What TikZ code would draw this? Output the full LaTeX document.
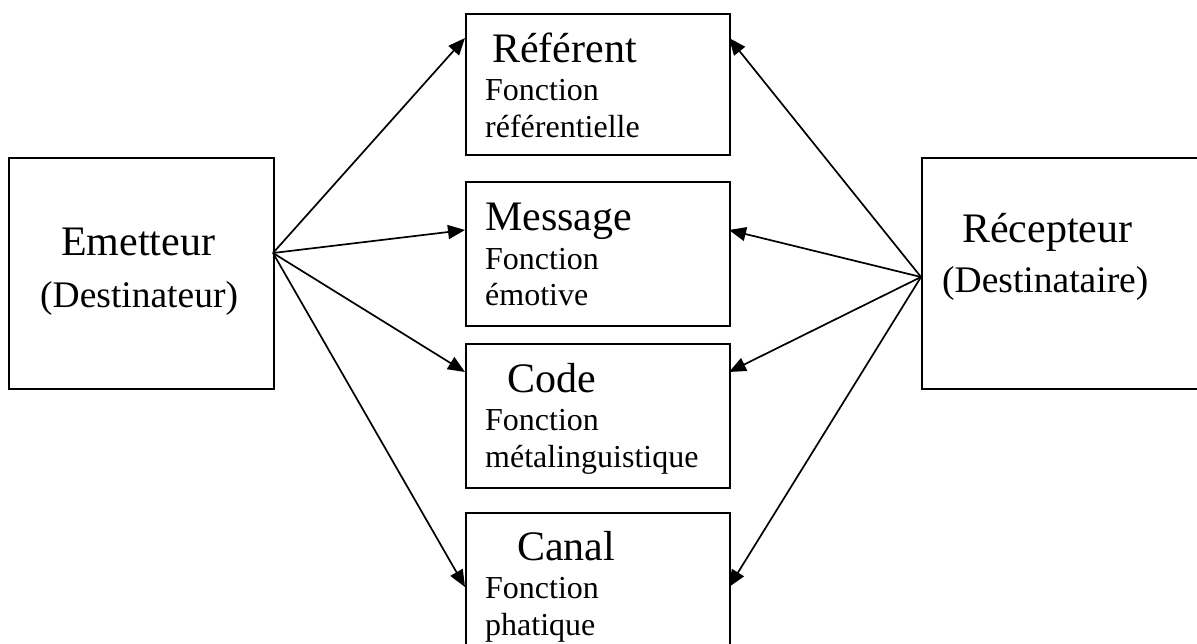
\documentclass[tikz,border=0pt]{standalone}
\usepackage{fontspec}
\setmainfont{Liberation Serif}
\usetikzlibrary{arrows.meta}
\begin{document}
\begin{tikzpicture}[x=1pt,y=-1pt,
  box/.style={draw,line width=1.9pt,inner sep=0pt,anchor=north west},
  big/.style={anchor=base west,inner sep=0pt,font=\fontsize{42}{42}\selectfont},
  mid/.style={anchor=base west,inner sep=0pt,font=\fontsize{37.5}{37.5}\selectfont},
  small/.style={anchor=base west,inner sep=0pt,font=\fontsize{32}{32}\selectfont},
  link/.style={line width=1.7pt,-{Triangle[length=17pt,width=14pt]}}]
\useasboundingbox (0,0) rectangle (1197,643);
% boxes
\node[box,minimum width=265pt,minimum height=231pt] (em) at (8,157) {};
\node[box,minimum width=300pt,minimum height=231pt] (rc) at (921,157) {};
\node[box,minimum width=264pt,minimum height=141pt] (ref) at (465,13) {};
\node[box,minimum width=264pt,minimum height=144pt] (msg) at (465,181) {};
\node[box,minimum width=264pt,minimum height=144pt] (cod) at (465,343) {};
\node[box,minimum width=264pt,minimum height=150pt] (can) at (465,512) {};
% texts
\node[big] (t1) at (61,255) {Emetteur};
\node[mid] (t2) at (40,307) {(Destinateur)};
\node[big] (t3) at (962,242) {Récepteur};
\node[mid] (t4) at (942,292) {(Destinataire)};
\node[big] (t5) at (492,62) {Référent};
\node[small] (t6) at (485,100) {Fonction};
\node[small] (t7) at (485,137) {référentielle};
\node[big] (t8) at (485,230) {Message};
\node[small] (t9) at (485,269) {Fonction};
\node[small] (t10) at (485,305) {émotive};
\node[big] (t11) at (507,392) {Code};
\node[small] (t12) at (485,430) {Fonction};
\node[small] (t13) at (485,467) {métalinguistique};
\node[big] (t14) at (517,560) {Canal};
\node[small] (t15) at (485,598) {Fonction};
\node[small] (t16) at (485,635) {phatique};
% connector points
\coordinate (eo) at (273,253);
\coordinate (ro) at (921,277);
\coordinate (refL) at (465,38);
\coordinate (refR) at (729,38);
\coordinate (msgL) at (465,230);
\coordinate (msgR) at (729,230);
\coordinate (codL) at (465,372);
\coordinate (codR) at (729,372);
\coordinate (canL) at (465,587);
\coordinate (canR) at (729,587);
\draw[link] (eo) -- (refL);
\draw[link] (eo) -- (msgL);
\draw[link] (eo) -- (codL);
\draw[link] (eo) -- (canL);
\draw[link] (ro) -- (refR);
\draw[link] (ro) -- (msgR);
\draw[link] (ro) -- (codR);
\draw[link] (ro) -- (canR);
\end{tikzpicture}
\end{document}
